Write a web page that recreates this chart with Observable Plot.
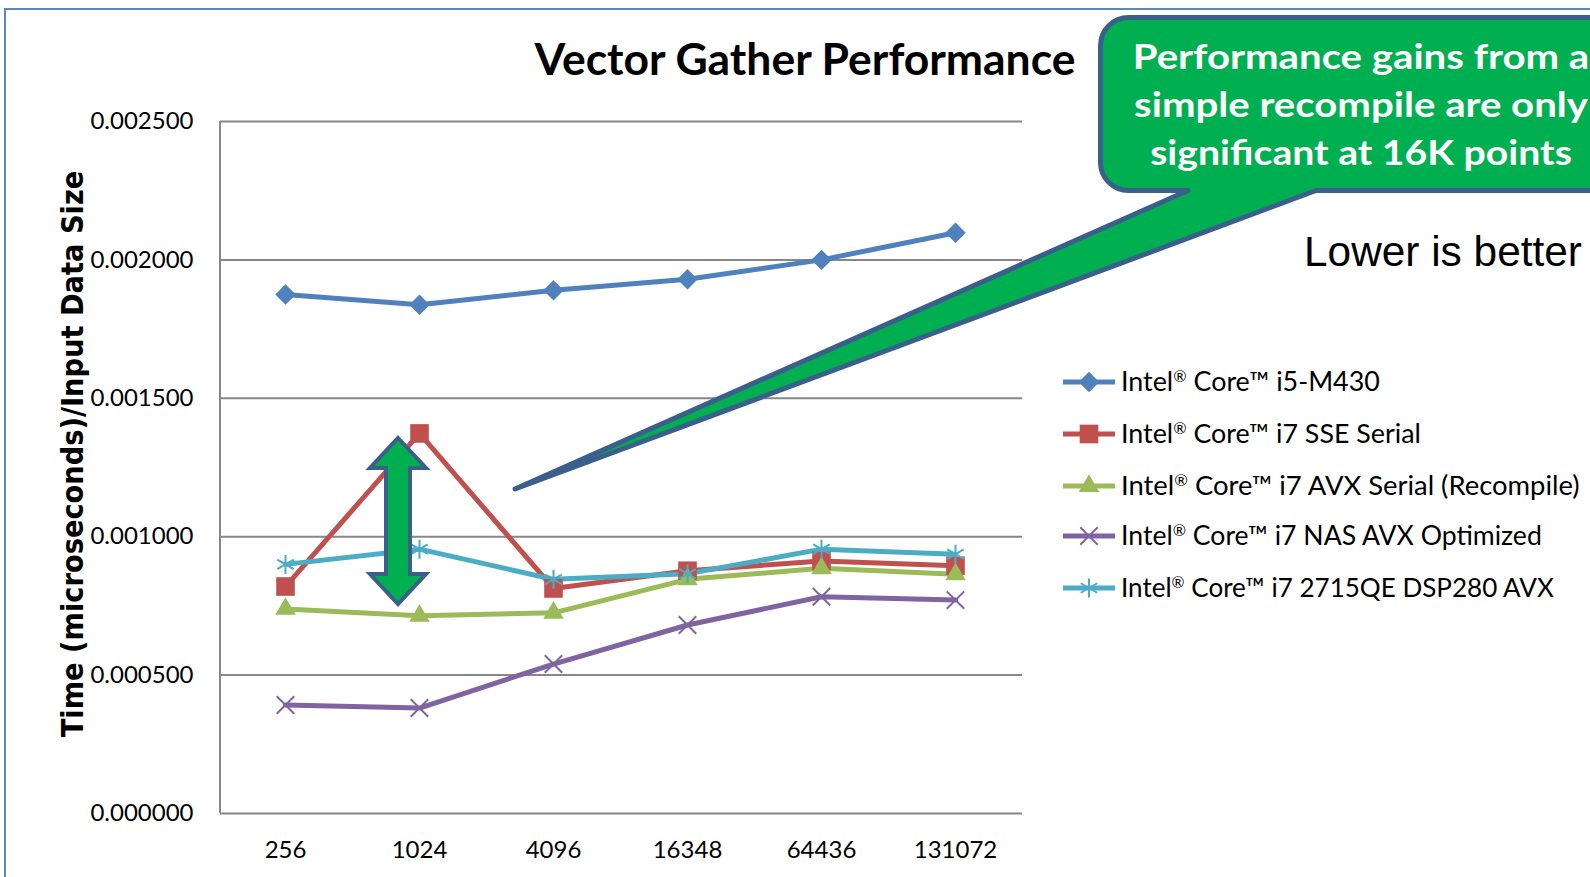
<!DOCTYPE html>
<html><head><meta charset="utf-8">
<script src="https://cdn.jsdelivr.net/npm/d3@7"></script>
<script src="https://cdn.jsdelivr.net/npm/@observablehq/plot@0.6"></script>
<style>body{margin:0;background:#fff;overflow:hidden}</style>
</head><body><div id="chart"></div>
<script>
// ---- data ----
const sizes = ["256", "1024", "4096", "16348", "64436", "131072"];
const seriesNames = [
  "Intel® Core™ i5-M430",
  "Intel® Core™ i7 SSE Serial",
  "Intel® Core™ i7 AVX Serial (Recompile)",
  "Intel® Core™ i7 NAS AVX Optimized",
  "Intel® Core™ i7 2715QE DSP280 AVX"
];
const i5M430 = [0.001875, 0.001838, 0.001890, 0.001930, 0.002000, 0.002098];
const i7SSESerial = [0.000820, 0.001373, 0.000813, 0.000877, 0.000912, 0.000895];
const i7AVXSerial = [0.000739, 0.000714, 0.000725, 0.000846, 0.000886, 0.000864];
const i7NASAVX = [0.000392, 0.000381, 0.000540, 0.000681, 0.000783, 0.000771];
const i7DSP280 = [0.000900, 0.000955, 0.000846, 0.000866, 0.000955, 0.000937];
const yTicks = [0, 0.0005, 0.001, 0.0015, 0.002, 0.0025];
const title = "Vector Gather Performance";
const yLabel = "Time (microseconds)/Input Data Size";
const calloutLines = ["Performance gains from a", "simple recompile are only", "significant at 16K points"];
const note = "Lower is better";

const seriesValues = [i5M430, i7SSESerial, i7AVXSerial, i7NASAVX, i7DSP280];
const colors = ["#4F81BD", "#C0504D", "#9BBB59", "#8064A2", "#4BACC6"];
const symbols = ["diamond2", "square", "triangle", "times", "asterisk"];
const radii = [9.2, 10.5, 7.6, 8, 9];
const filled = [true, true, true, false, false];

const rows = [];
seriesNames.forEach((s, i) => sizes.forEach((x, j) => rows.push({series: s, size: x, value: seriesValues[i][j]})));

const W = 1590, H = 877, ML = 220, MR = 568, MT = 121, MB = 64;

const marks = [
  Plot.ruleY(yTicks, {stroke: "#878787", strokeWidth: 2}),
  Plot.axisY(yTicks, {tickSize: 0, tickPadding: 27, tickFormat: d3.format(".6f"), fontSize: 24, label: null}),
  Plot.axisX({tickSize: 0, tickPadding: 27, fontSize: 24, label: null}),
  Plot.line(rows, {x: "size", y: "value", z: "series", stroke: "series", strokeWidth: 5, strokeLinejoin: "round"})
];
seriesNames.forEach((s, i) => {
  marks.push(Plot.dot(rows.filter(d => d.series === s), {
    x: "size", y: "value", symbol: symbols[i], r: radii[i],
    fill: filled[i] ? colors[i] : "none",
    stroke: filled[i] ? "none" : colors[i], strokeWidth: 2
  }));
});

const chart = Plot.plot({
  width: W, height: H,
  marginLeft: ML, marginRight: MR, marginTop: MT, marginBottom: MB,
  style: {fontFamily: "Lato", fontSize: "24px", color: "#000", background: "#fff", overflow: "visible"},
  x: {type: "point", domain: sizes, range: [285, 955], padding: 0},
  y: {domain: [0, 0.0025]},
  color: {domain: seriesNames, range: colors},
  marks
});
document.getElementById("chart").appendChild(chart);

const svg = d3.select(chart);
function fit(t, target) {
  const w = t.node().getComputedTextLength();
  const x = +t.attr("data-x"), y = +t.attr("data-y"), rot = t.attr("data-rot") || 0;
  t.attr("transform", `translate(${x},${y}) rotate(${rot}) scale(${target / w},1)`);
}
function addText(g, str, x, y, opts) {
  const t = g.append("text").attr("data-x", x).attr("data-y", y).attr("x", 0).attr("y", 0)
    .attr("font-family", opts.font).attr("font-size", opts.size).attr("font-weight", opts.weight || "normal")
    .attr("fill", opts.fill || "#000").attr("text-anchor", opts.anchor || "start");
  if (opts.rot) t.attr("data-rot", opts.rot);
  if (opts.sup) {
    const parts = str.split("®");
    parts.forEach((p, k) => {
      if (k > 0) t.append("tspan").attr("font-size", opts.size * 0.6).attr("dy", -opts.size * 0.35).text("®");
      const tp = t.append("tspan").text(p);
      if (k > 0) tp.attr("dy", opts.size * 0.35);
    });
  } else t.text(str);
  t.attr("transform", `translate(${x},${y}) rotate(${opts.rot || 0})`);
  if (opts.width) fit(t, opts.width);
  return t;
}
const ann = svg.append("g");
// left axis line
ann.append("line").attr("x1", ML).attr("x2", ML).attr("y1", MT).attr("y2", H - MB).attr("stroke", "#878787").attr("stroke-width", 2);
// outer border
ann.append("rect").attr("x", 5).attr("y", 9).attr("width", 1700).attr("height", 1000).attr("fill", "none").attr("stroke", "#5B86C0").attr("stroke-width", 2);
// title
addText(ann, title, 805, 75, {font: "Lato", size: 43, weight: "bold", anchor: "middle", width: 541});
// y label
addText(ann, yLabel, 83, 454, {font: "DejaVu Sans", size: 30, weight: "bold", anchor: "middle", rot: -90, width: 567});
// lower is better
addText(ann, note, 1304, 266, {font: "Liberation Sans", size: 43, width: 278});
// legend
const legendY = [382, 434, 486, 536, 588];
const legendW = [259, 300, 459, 421, 433];
seriesNames.forEach((s, i) => {
  const y = legendY[i];
  ann.append("line").attr("x1", 1063).attr("x2", 1115).attr("y1", y).attr("y2", y).attr("stroke", colors[i]).attr("stroke-width", 5);
  const sym = {diamond2: d3.symbolDiamond2, square: d3.symbolSquare, triangle: d3.symbolTriangle, times: d3.symbolTimes, asterisk: d3.symbolAsterisk}[symbols[i]];
  ann.append("path").attr("d", d3.symbol(sym, Math.PI * radii[i] * radii[i])())
    .attr("transform", `translate(1089,${y})`)
    .attr("fill", filled[i] ? colors[i] : "none").attr("stroke", filled[i] ? "none" : colors[i]).attr("stroke-width", 2);
  addText(ann, s, 1121, y + 9, {font: "Lato", size: 27, sup: true, width: legendW[i]});
});
// callout
const cg = ann.append("g");
cg.append("path")
  .attr("d", "M1128.5,17.5 H1700 V190.5 H1316 L515,489 L1188,190.5 H1128.5 A28,28 0 0 1 1100.5,162.5 V45.5 A28,28 0 0 1 1128.5,17.5 Z")
  .attr("fill", "#00B050").attr("stroke", "#3A5F8B").attr("stroke-width", 5).attr("stroke-linejoin", "round");
const cW = [null, 454, 422];
const cY = [69, 117, 165];
const tmp = [];
calloutLines.forEach((l, i) => tmp.push(addText(cg, l, 1361, cY[i], {font: "Lato", size: 35, weight: "bold", fill: "#fff", anchor: "middle", width: cW[i]})));
{ const w2 = tmp[1].node().getComputedTextLength(); fit(tmp[0], tmp[0].node().getComputedTextLength() * 454 / w2); }
// double-headed arrow
ann.append("path")
  .attr("d", "M398,438 L426,468 H410 V574 H426 L398,604 L370,574 H386 V468 H370 Z")
  .attr("fill", "#00B050").attr("stroke", "#3A5F8B").attr("stroke-width", 4).attr("stroke-linejoin", "miter");
</script>
</body></html>
